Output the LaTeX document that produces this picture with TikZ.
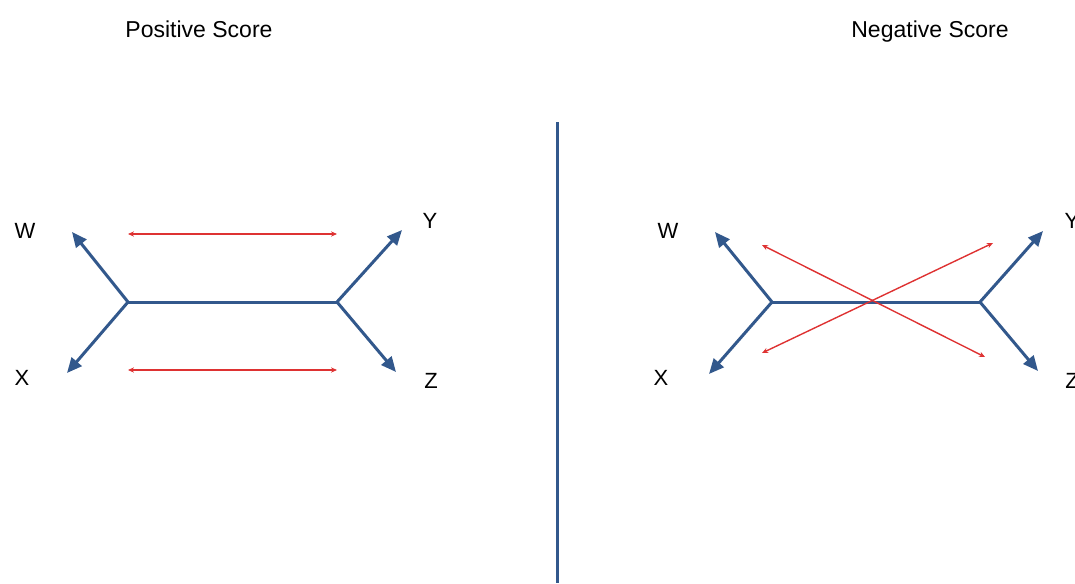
\documentclass[tikz,border=0pt]{standalone}
\usepackage{fontspec}
\setmainfont{Liberation Sans}
\usepackage{xcolor}
\usetikzlibrary{arrows.meta}

\definecolor{treeblue}{RGB}{50,88,140}
\definecolor{swapred}{RGB}{222,50,50}

\begin{document}
\begin{tikzpicture}[x=0.5pt, y=-0.5pt,
    edge/.style={line width=1.5pt, treeblue},
    branch/.style={edge, -{Triangle[length=7.5pt, width=6.5pt]}},
    swap/.style={line width=0.7pt, swapred, {Stealth[length=3pt, width=2.6pt]}-{Stealth[length=3pt, width=2.6pt]}},
    taxon/.style={anchor=base, inner sep=0pt, font=\fontsize{11}{13}\selectfont},
    heading/.style={anchor=base, inner sep=0pt, font=\fontsize{11.5}{14}\selectfont}]
    \useasboundingbox (0,0) rectangle (1075,583);

    % Headings
    \node[heading] (postitle) at (199,38) {Positive Score};
    \node[heading] (negtitle) at (930,38) {Negative Score};

    % Divider
    \coordinate (divtop) at (557,122);
    \coordinate (divbot) at (557,583);
    \draw[edge] (divtop) -- (divbot);

    % Positive tree
    \coordinate (pl) at (128,302);
    \coordinate (pr) at (337,302);
    \coordinate (pw) at (72,232);
    \coordinate (px) at (67,373);
    \coordinate (py) at (402,230);
    \coordinate (pz) at (396,372);
    \draw[edge] (pl) -- (pr);
    \draw[branch] (pl) -- (pw);
    \draw[branch] (pl) -- (px);
    \draw[branch] (pr) -- (py);
    \draw[branch] (pr) -- (pz);
    \node[taxon] (pW) at (25,238) {W};
    \node[taxon] (pX) at (22,385) {X};
    \node[taxon] (pY) at (430,228) {Y};
    \node[taxon] (pZ) at (431,388) {Z};

    % Positive swaps
    \coordinate (pa1) at (128,234);
    \coordinate (pa2) at (337,234);
    \coordinate (pb1) at (128,370);
    \coordinate (pb2) at (337,370);
    \draw[swap] (pa1) -- (pa2);
    \draw[swap] (pb1) -- (pb2);

    % Negative tree
    \coordinate (nl) at (772,302);
    \coordinate (nr) at (980,302);
    \coordinate (nw) at (715,232);
    \coordinate (nx) at (709,374);
    \coordinate (ny) at (1043,231);
    \coordinate (nz) at (1038,371);
    \draw[edge] (nl) -- (nr);
    \draw[branch] (nl) -- (nw);
    \draw[branch] (nl) -- (nx);
    \draw[branch] (nr) -- (ny);
    \draw[branch] (nr) -- (nz);
    \node[taxon] (nW) at (668,238) {W};
    \node[taxon] (nX) at (661,385) {X};
    \node[taxon] (nY) at (1072,228) {Y};
    \node[taxon] (nZ) at (1072,388) {Z};

    % Negative swaps
    \coordinate (na1) at (762,245);
    \coordinate (na2) at (985,357);
    \coordinate (nb1) at (762,353);
    \coordinate (nb2) at (993,243);
    \draw[swap] (na1) -- (na2);
    \draw[swap] (nb1) -- (nb2);
\end{tikzpicture}
\end{document}
